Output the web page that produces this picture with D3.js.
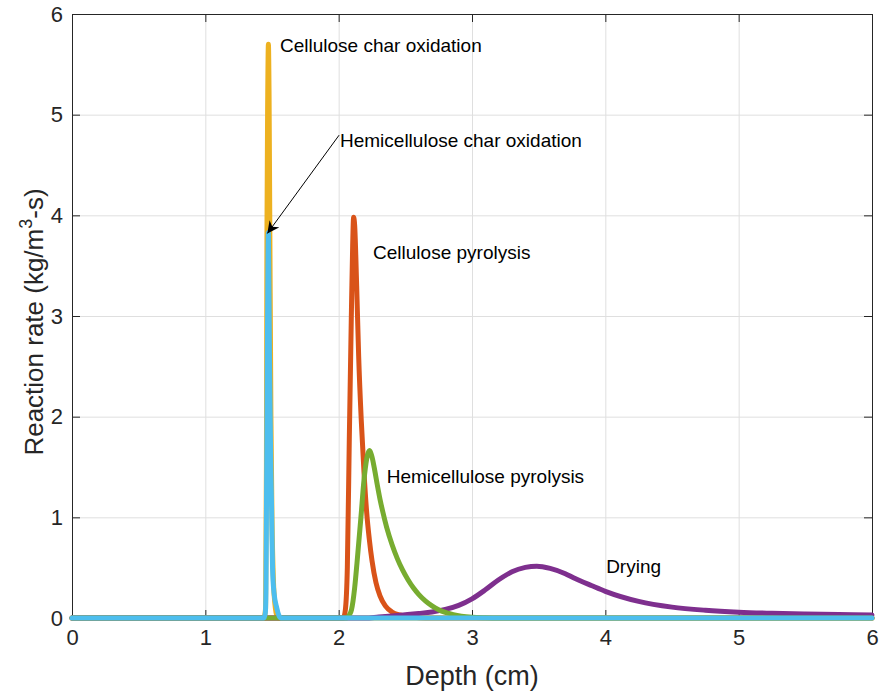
<!DOCTYPE html>
<meta charset="utf-8">
<style>
body { margin: 0; padding: 0; background: #fff; }
svg { font-family: "Liberation Sans", Arial, sans-serif; }
.grid line { stroke: #dfdfdf; stroke-width: 1; }
.grid .domain { display: none; }
.axis .domain { stroke: #262626; }
.axis line { stroke: #262626; }
.axis text { font-size: 22px; fill: #262626; }
.series { fill: none; stroke-width: 5; stroke-linejoin: round; stroke-linecap: round; }
.note { font-size: 19px; fill: #000; }
</style>
<svg width="881" height="693"></svg>
<script src="https://d3js.org/d3.v7.min.js"></script>
<script>

// depth (cm), reaction rate (kg/m3-s)
var cellulosePyrolysis = [
  [0, 0], [2.035, 0], [2.05, 0.08], [2.065, 0.5], [2.08, 1.8], [2.095, 3.0], [2.105, 3.7],
  [2.112, 3.98], [2.12, 3.9], [2.135, 3.3], [2.15, 2.6], [2.17, 1.95], [2.19, 1.45],
  [2.21, 1.05], [2.23, 0.78], [2.25, 0.57], [2.28, 0.35], [2.31, 0.22], [2.35, 0.12],
  [2.4, 0.06], [2.46, 0.03], [2.55, 0.01], [2.65, 0], [6, 0]
];
var celluloseCharOx = [
  [0, 0], [1.44, 0], [1.452, 0.1], [1.458, 1.5], [1.462, 3.8], [1.468, 5.2], [1.473, 5.7],
  [1.478, 5.2], [1.484, 3.8], [1.492, 2.0], [1.5, 1.0], [1.51, 0.4], [1.525, 0.1],
  [1.545, 0], [6, 0]
];
var drying = [
  [0, 0], [2.2, 0], [2.3, 0.01], [2.4, 0.02], [2.5, 0.032], [2.6, 0.045], [2.7, 0.06],
  [2.8, 0.085], [2.9, 0.125], [3.0, 0.19], [3.1, 0.28], [3.2, 0.38], [3.3, 0.46],
  [3.4, 0.503], [3.486, 0.515], [3.586, 0.493], [3.7, 0.44], [3.761, 0.4], [3.9, 0.32],
  [4.0, 0.265], [4.25, 0.165], [4.5, 0.108], [4.75, 0.077], [5.0, 0.058], [5.25, 0.047],
  [5.5, 0.04], [5.75, 0.035], [6.0, 0.03]
];
var hemiPyrolysis = [
  [0, 0], [2.06, 0], [2.08, 0.03], [2.096, 0.08], [2.12, 0.3], [2.137, 0.54], [2.167, 1.0],
  [2.19, 1.37], [2.21, 1.58], [2.23, 1.663], [2.25, 1.6], [2.27, 1.47], [2.29, 1.32],
  [2.31, 1.18], [2.33, 1.06], [2.36, 0.9], [2.4, 0.73], [2.44, 0.59], [2.48, 0.475],
  [2.52, 0.38], [2.56, 0.3], [2.6, 0.235], [2.65, 0.17], [2.7, 0.12], [2.75, 0.082],
  [2.8, 0.055], [2.86, 0.033], [2.92, 0.018], [3.0, 0.007], [3.1, 0.002], [3.2, 0], [6, 0]
];
var hemiCharOx = [
  [0, 0], [1.44, 0], [1.45, 0.05], [1.455, 0.3], [1.459, 1.2], [1.465, 2.6], [1.473, 3.83],
  [1.481, 2.6], [1.49, 1.6], [1.496, 1.17], [1.504, 0.5], [1.515, 0.25], [1.536, 0.1],
  [1.55, 0.03], [1.565, 0], [6, 0]
];

var xTicks = [0, 1, 2, 3, 4, 5, 6];
var yTicks = [0, 1, 2, 3, 4, 5, 6];

var series = [
  {name: "Cellulose pyrolysis", values: cellulosePyrolysis, color: "#D95319"},
  {name: "Cellulose char oxidation", values: celluloseCharOx, color: "#EDB120"},
  {name: "Drying", values: drying, color: "#7E2F8E"},
  {name: "Hemicellulose pyrolysis", values: hemiPyrolysis, color: "#77AC30"},
  {name: "Hemicellulose char oxidation", values: hemiCharOx, color: "#4DBEEE"}
];

var svg = d3.select("svg"),
    margin = {top: 14, right: 9, bottom: 75, left: 72},
    width = +svg.attr("width") - margin.left - margin.right,
    height = +svg.attr("height") - margin.top - margin.bottom,
    g = svg.append("g").attr("transform", "translate(" + margin.left + "," + margin.top + ")");

var x = d3.scaleLinear().domain([0, 6]).range([0, width]);
var y = d3.scaleLinear().domain([0, 6]).range([height, 0]);
var fmt = d3.format("d");

// grid
g.append("g").attr("class", "grid")
    .attr("transform", "translate(0," + height + ")")
    .call(d3.axisBottom(x).tickValues(xTicks).tickSize(-height).tickFormat(""));
g.append("g").attr("class", "grid")
    .call(d3.axisLeft(y).tickValues(yTicks).tickSize(-width).tickFormat(""));

// box with inward ticks on every side
g.append("g").attr("class", "axis")
    .attr("transform", "translate(0," + height + ")")
    .call(d3.axisBottom(x).tickValues(xTicks).tickFormat(fmt).tickSizeInner(-8).tickSizeOuter(0).tickPadding(11))
    .selectAll("text").attr("dy", "0.71em");
g.append("g").attr("class", "axis")
    .call(d3.axisLeft(y).tickValues(yTicks).tickFormat(fmt).tickSizeInner(-8).tickSizeOuter(0).tickPadding(9));
g.append("g").attr("class", "axis")
    .call(d3.axisTop(x).tickValues(xTicks).tickSizeInner(-8).tickSizeOuter(0).tickFormat(""));
g.append("g").attr("class", "axis")
    .attr("transform", "translate(" + width + ",0)")
    .call(d3.axisRight(y).tickValues(yTicks).tickSizeInner(-8).tickSizeOuter(0).tickFormat(""));

var line = d3.line()
    .x(function(d) { return x(d[0]); })
    .y(function(d) { return y(d[1]); })
    .curve(d3.curveMonotoneX);

g.selectAll(".series")
  .data(series)
  .enter().append("path")
    .attr("class", "series")
    .attr("stroke", function(d) { return d.color; })
    .attr("d", function(d) { return line(d.values); });

// axis titles
svg.append("text")
    .attr("x", margin.left + width / 2)
    .attr("y", 685)
    .attr("text-anchor", "middle")
    .attr("font-size", 27)
    .attr("fill", "#262626")
    .text("Depth (cm)");

var yt = svg.append("text")
    .attr("transform", "translate(43,322) rotate(-90)")
    .attr("text-anchor", "middle")
    .attr("font-size", 26)
    .attr("fill", "#262626");
yt.append("tspan").text("Reaction rate (kg/m");
yt.append("tspan").attr("font-size", 18).attr("dy", -11).text("3");
yt.append("tspan").attr("dy", 11).text("-s)");

// annotations
var notes = [
  {text: "Cellulose char oxidation", x: 1.56, y: 5.69},
  {text: "Hemicellulose char oxidation", x: 2.01, y: 4.74},
  {text: "Cellulose pyrolysis", x: 2.258, y: 3.635},
  {text: "Hemicellulose pyrolysis", x: 2.36, y: 1.403},
  {text: "Drying", x: 4.006, y: 0.516}
];
g.selectAll(".note")
  .data(notes)
  .enter().append("text")
    .attr("class", "note")
    .attr("x", function(d) { return x(d.x); })
    .attr("y", function(d) { return y(d.y); })
    .attr("dy", "0.35em")
    .text(function(d) { return d.text; });

svg.append("defs").append("marker")
    .attr("id", "head")
    .attr("viewBox", "0 0 10 10")
    .attr("refX", 10).attr("refY", 5)
    .attr("markerWidth", 12).attr("markerHeight", 12)
    .attr("markerUnits", "userSpaceOnUse")
    .attr("orient", "auto")
  .append("path")
    .attr("d", "M0,0 L10,5 L0,10 L3,5 Z")
    .attr("fill", "#000");

g.append("line")
    .attr("x1", x(2.003)).attr("y1", y(4.796))
    .attr("x2", x(1.465)).attr("y2", y(3.82))
    .attr("stroke", "#000")
    .attr("stroke-width", 1)
    .attr("marker-end", "url(#head)");

</script>
